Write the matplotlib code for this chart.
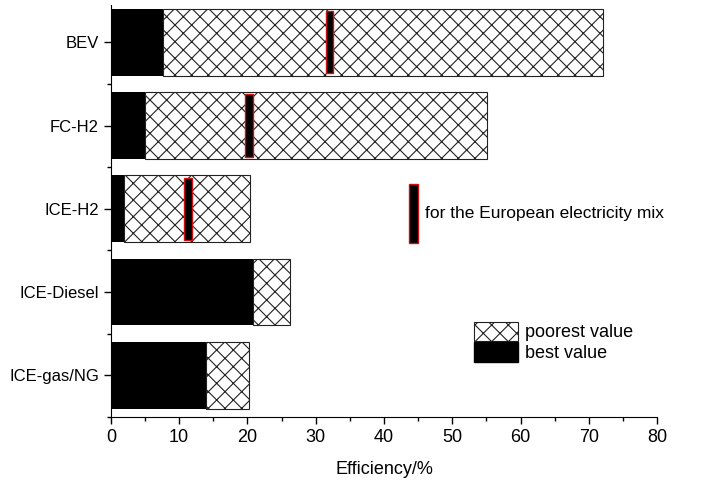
import matplotlib
matplotlib.use("Agg")
import matplotlib.pyplot as plt
from matplotlib.patches import Patch
from matplotlib.ticker import MultipleLocator

# data
categories = ["ICE-gas/NG", "ICE-Diesel", "ICE-H2", "FC-H2", "BEV"]
best_value = [13.9, 20.8, 1.9, 5.0, 7.6]
poorest_value = [20.2, 26.2, 20.4, 55.1, 72.1]
eu_mix = [None, None, 11.3, 20.2, 32.0]

plt.rcParams['font.family'] = ['Liberation Sans', 'DejaVu Sans']
plt.rcParams['hatch.linewidth'] = 0.8


def draw():
    fig = plt.figure(figsize=(7.02, 4.83), dpi=100)
    ax = fig.add_axes([0.158, 0.137, 0.778, 0.853])

    y = list(range(len(categories)))
    widths = [p - b for p, b in zip(poorest_value, best_value)]
    ax.barh(y, widths, left=best_value, height=0.8, facecolor="white",
            edgecolor="#222222", hatch="xx", linewidth=0.8)
    ax.barh(y, best_value, height=0.8, color="black", linewidth=0)

    ey = [i for i, v in zip(y, eu_mix) if v is not None]
    ev = [v - 0.55 for v in eu_mix if v is not None]
    ax.barh(ey, [1.1] * len(ey), left=ev, height=0.75, facecolor="black",
            edgecolor="#d01010", linewidth=1.0)

    ax.set_xlim(0, 80)
    ax.set_ylim(-0.5, 4.45)
    ax.set_yticks(y)
    ax.set_yticklabels(categories, fontsize=12)
    ax.yaxis.set_minor_locator(MultipleLocator(1, offset=0.5))
    ax.xaxis.set_major_locator(MultipleLocator(10))
    ax.xaxis.set_minor_locator(MultipleLocator(5))
    ax.tick_params(axis="x", labelsize=13, length=5, width=1, direction="out")
    ax.tick_params(axis="y", length=5, width=1, direction="out")
    ax.tick_params(which="minor", length=3, width=1)
    for s in ["top", "right"]:
        ax.spines[s].set_visible(False)
    ax.set_xlabel("Efficiency/%", fontsize=13, labelpad=11)

    h1 = [Patch(facecolor="white", edgecolor="#222222", hatch="xx", linewidth=0.8),
          Patch(facecolor="black", edgecolor="black")]
    leg1 = ax.legend(h1, ["poorest value", "best value"], loc="upper left",
                     bbox_to_anchor=(0.642, 0.262), frameon=False, fontsize=13,
                     handlelength=2.4, handleheight=1.3, handletextpad=0.4,
                     labelspacing=0.05, borderpad=0.2)
    ax.add_artist(leg1)

    h2 = [Patch(facecolor="black", edgecolor="#d01010", linewidth=1.0)]
    ax.legend(h2, ["for the European electricity mix"], loc="center left",
              bbox_to_anchor=(0.517, 0.493), frameon=False, fontsize=12.5,
              handlelength=0.5, handleheight=4.9, handletextpad=0.4)

    fig.savefig("out.png", dpi=100)


if __name__ == "__main__":
    draw()
